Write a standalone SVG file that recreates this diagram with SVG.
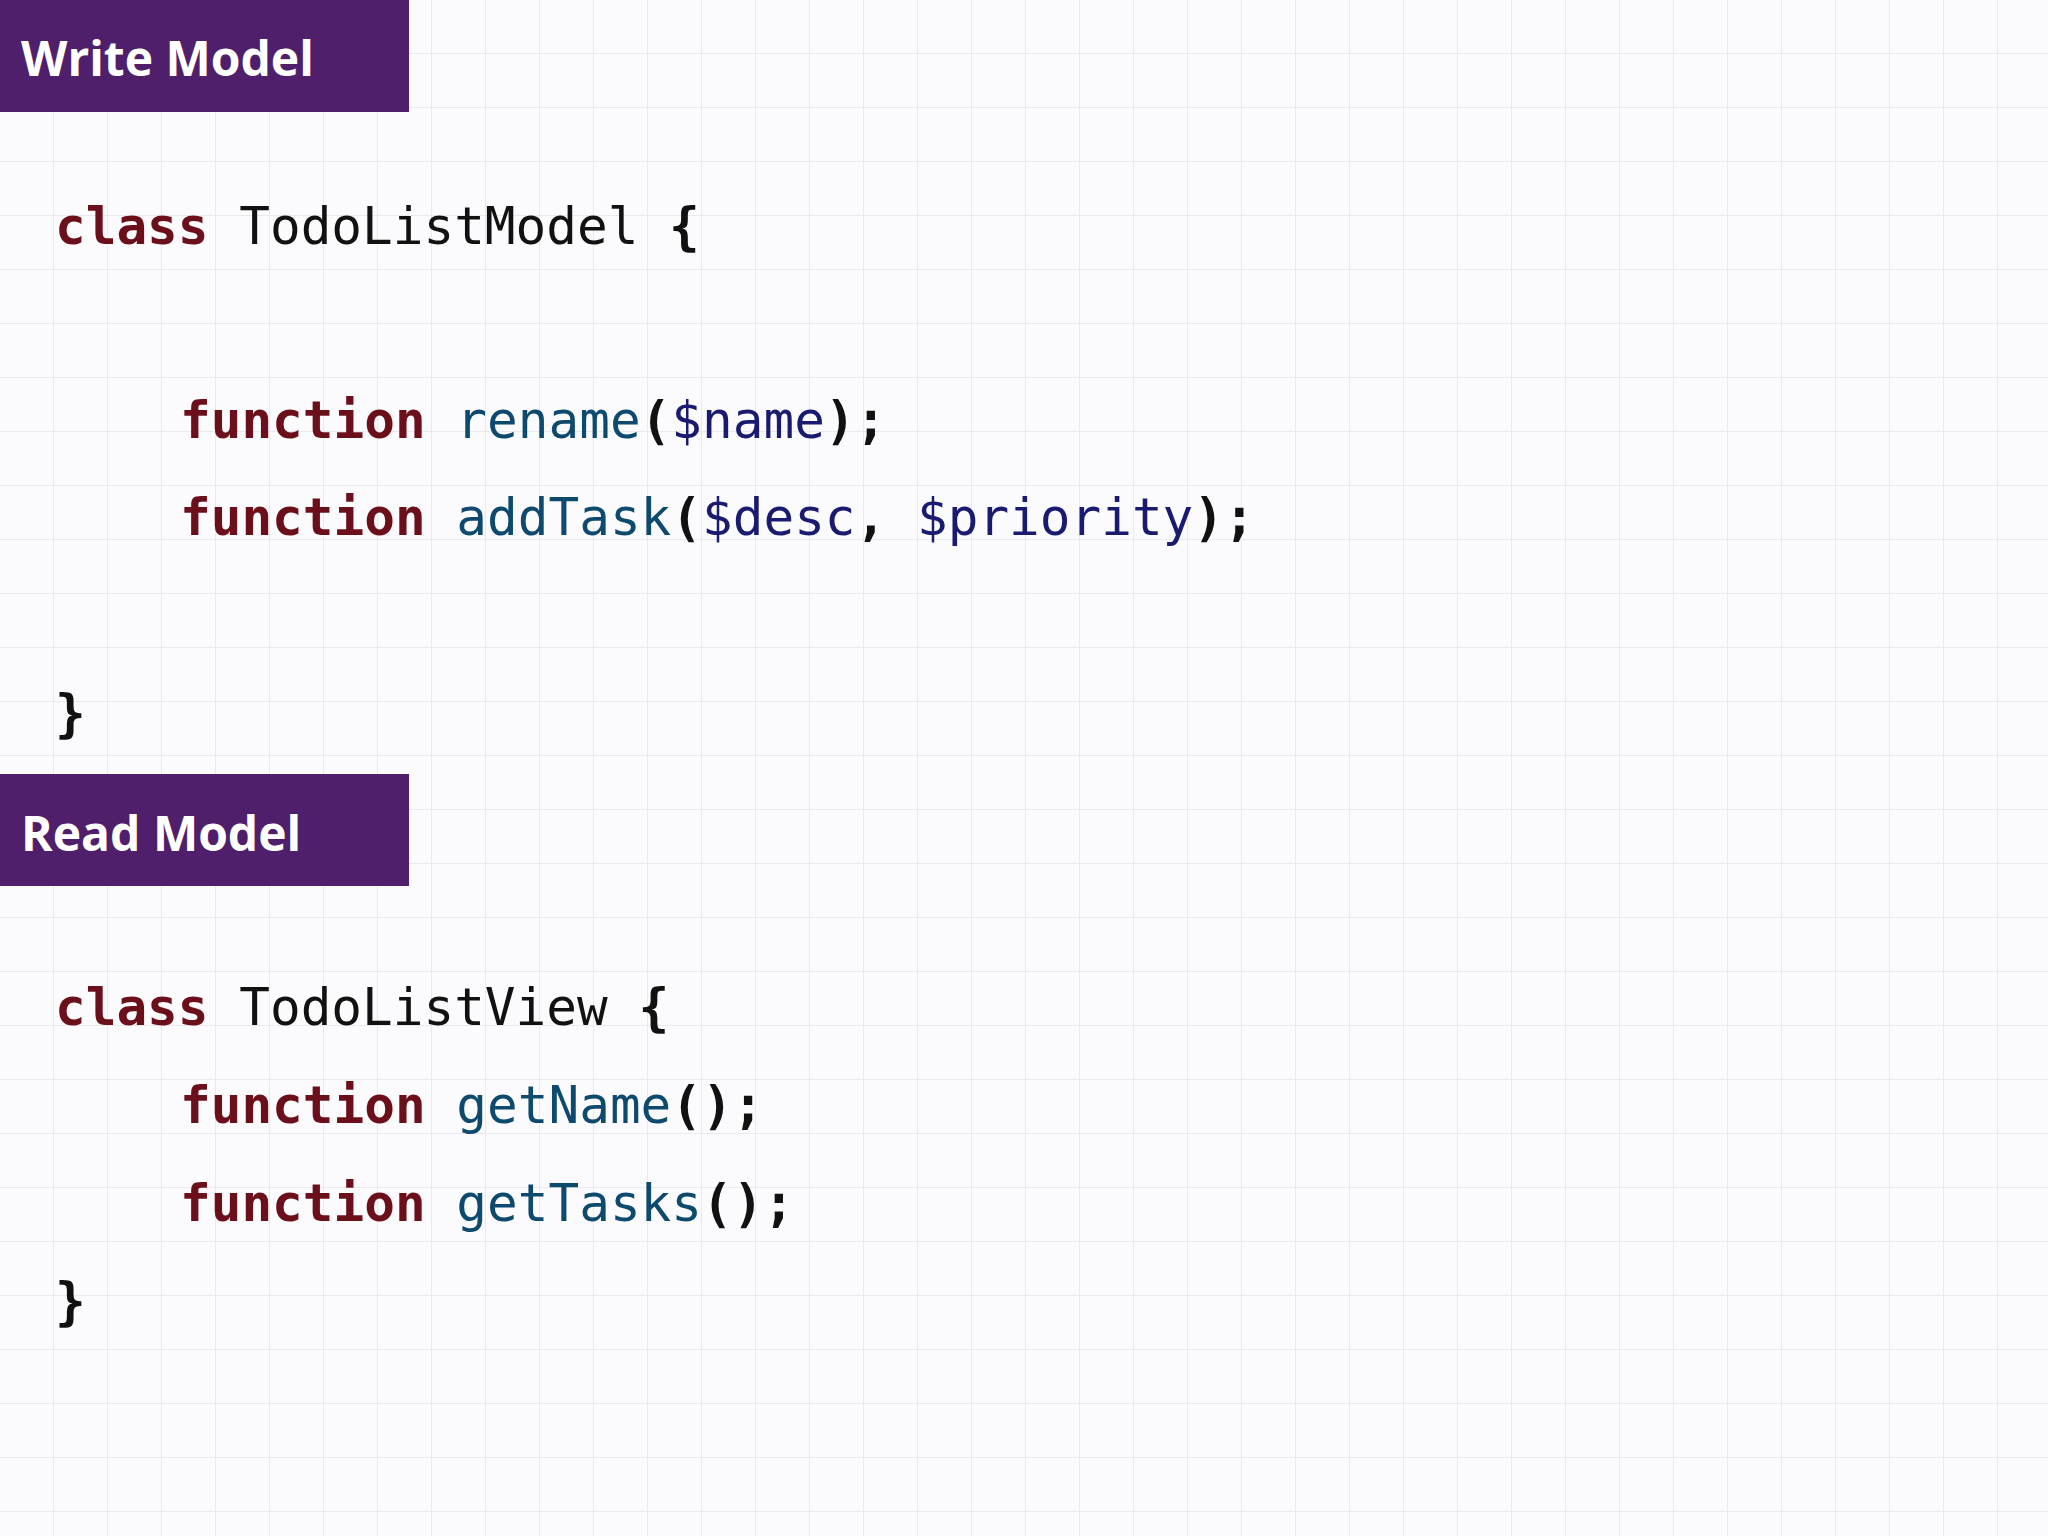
<svg xmlns="http://www.w3.org/2000/svg" width="2048" height="1536" viewBox="0 0 2048 1536">
<defs>
<pattern id="grid" width="54" height="54" patternUnits="userSpaceOnUse">
<path d="M54 0V54M0 54H54" fill="none" stroke="#e9e9ee" stroke-width="2"/>
</pattern>
<style>
.ban{fill:#4f1f6b}
.bt{font-family:"Open Sans","DejaVu Sans",sans-serif;font-weight:bold;font-size:48px;fill:#fff}
.code{font-family:"DejaVu Sans Mono","Liberation Mono",monospace;font-size:51px;fill:#111}
.kw{font-weight:bold;fill:#6b0f1a}
.fn{fill:#0e4a6e}
.pr{fill:#1a1a70}
.p{font-weight:bold;fill:#111}
</style>
</defs>
<rect width="2048" height="1536" fill="#fbfbfd"/>
<rect width="2048" height="1536" fill="url(#grid)"/>
<g id="write-model">
<rect class="ban" x="0" y="0" width="409" height="112"/>
<text class="bt" x="21" y="76">Write Model</text>
</g>
<g id="write-code" class="code">
<text x="55" y="244" xml:space="preserve"><tspan class="kw">class</tspan> TodoListModel <tspan class="p">{</tspan></text>
<text x="180" y="438" xml:space="preserve"><tspan class="kw">function</tspan> <tspan class="fn">rename</tspan><tspan class="p">(</tspan><tspan class="pr">$name</tspan><tspan class="p">);</tspan></text>
<text x="180" y="535" xml:space="preserve"><tspan class="kw">function</tspan> <tspan class="fn">addTask</tspan><tspan class="p">(</tspan><tspan class="pr">$desc</tspan><tspan class="p">,</tspan> <tspan class="pr">$priority</tspan><tspan class="p">);</tspan></text>
<text x="55" y="731" class="p">}</text>
</g>
<g id="read-model">
<rect class="ban" x="0" y="774" width="409" height="112"/>
<text class="bt" x="21" y="851">Read Model</text>
</g>
<g id="read-code" class="code">
<text x="55" y="1025" xml:space="preserve"><tspan class="kw">class</tspan> TodoListView <tspan class="p">{</tspan></text>
<text x="180" y="1123" xml:space="preserve"><tspan class="kw">function</tspan> <tspan class="fn">getName</tspan><tspan class="p">();</tspan></text>
<text x="180" y="1221" xml:space="preserve"><tspan class="kw">function</tspan> <tspan class="fn">getTasks</tspan><tspan class="p">();</tspan></text>
<text x="55" y="1319" class="p">}</text>
</g>
<g id="connectors"/>
</svg>
